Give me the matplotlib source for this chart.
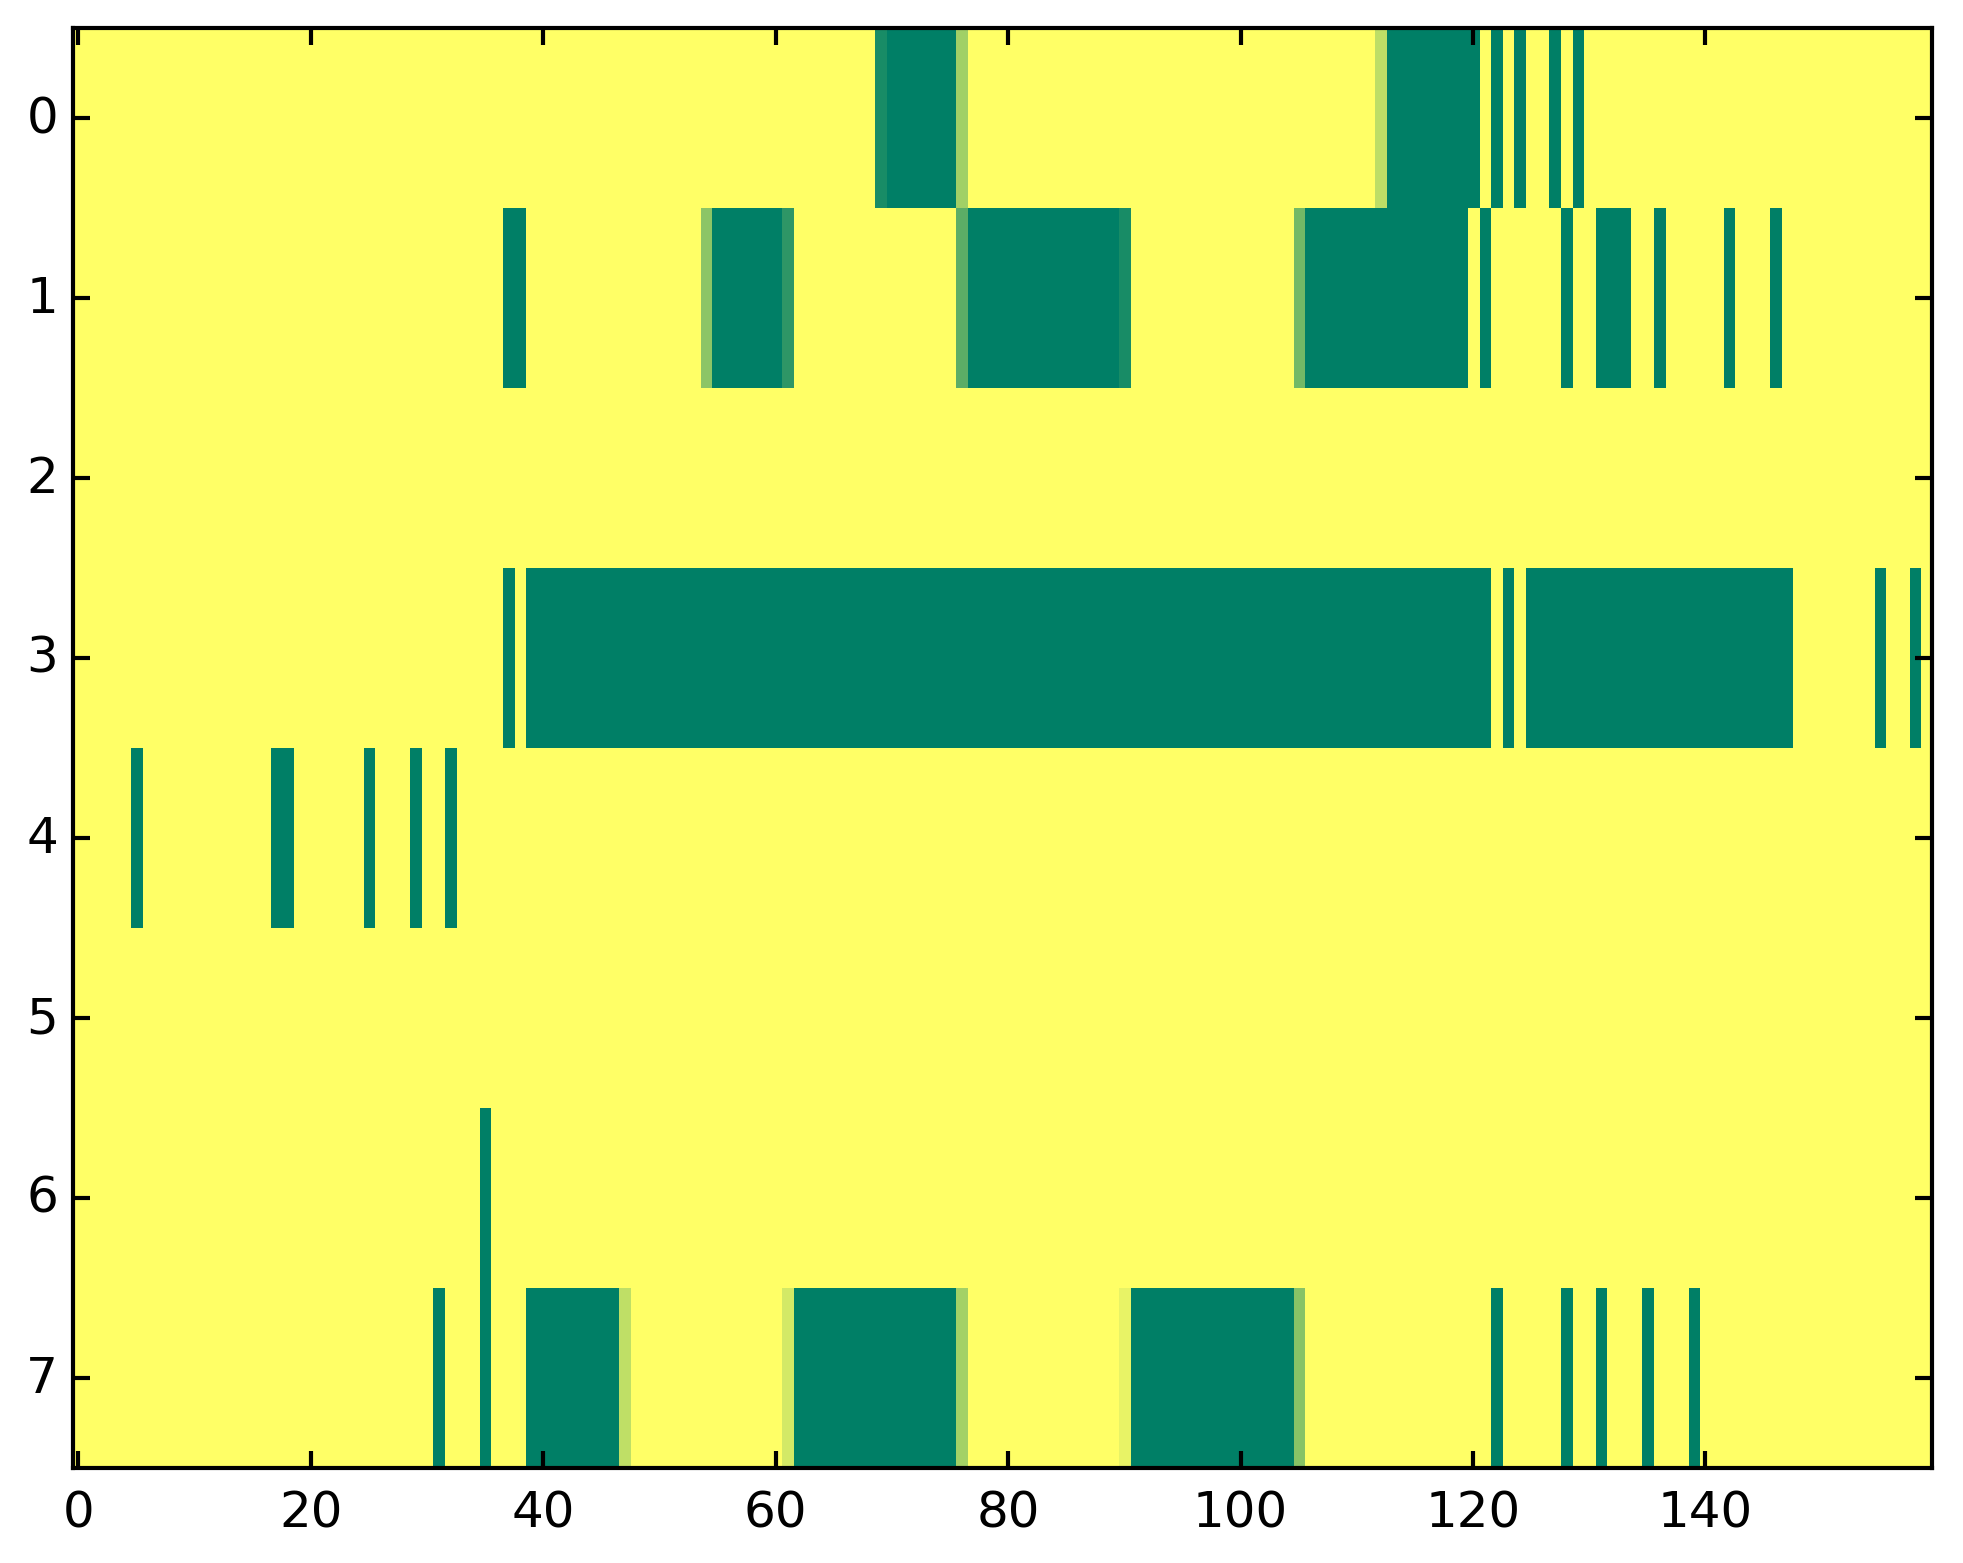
#!/usr/bin/env python3
"""
8 x 160 occupancy grid drawn with imshow (summer_r, nearest).
Output: out.png
"""

import numpy as np
import matplotlib
matplotlib.use("Agg")
import matplotlib.pyplot as plt

N_COLS = 160

# (first column, last column, value) runs per row; everything else is 0
ROW0 = [(69, 69, 0.9), (70, 75, 1.0), (76, 76, 0.37), (112, 112, 0.26),
        (113, 120, 1.0), (122, 122, 1.0), (124, 124, 1.0), (127, 127, 1.0),
        (129, 129, 1.0)]
ROW1 = [(37, 38, 1.0), (54, 54, 0.45), (55, 60, 1.0), (61, 61, 0.82),
        (76, 76, 0.64), (77, 89, 1.0), (90, 90, 0.9), (105, 105, 0.55),
        (106, 119, 1.0), (121, 121, 1.0), (128, 128, 1.0), (131, 133, 1.0),
        (136, 136, 1.0), (142, 142, 1.0), (146, 146, 1.0)]
ROW2 = []
ROW3 = [(37, 37, 1.0), (39, 121, 1.0), (123, 123, 1.0), (125, 147, 1.0),
        (155, 155, 1.0), (158, 158, 1.0)]
ROW4 = [(5, 5, 1.0), (17, 18, 1.0), (25, 25, 1.0), (29, 29, 1.0),
        (32, 32, 1.0)]
ROW5 = []
ROW6 = [(35, 35, 1.0)]
ROW7 = [(31, 31, 1.0), (35, 35, 1.0), (39, 46, 1.0), (47, 47, 0.25),
        (61, 61, 0.17), (62, 75, 1.0), (76, 76, 0.36), (90, 90, 0.09),
        (91, 104, 1.0), (105, 105, 0.47), (122, 122, 1.0), (128, 128, 1.0),
        (131, 131, 1.0), (135, 135, 1.0), (139, 139, 1.0)]

ROWS = [ROW0, ROW1, ROW2, ROW3, ROW4, ROW5, ROW6, ROW7]


def build_grid(rows, n_cols):
    grid = np.zeros((len(rows), n_cols))
    for r, runs in enumerate(rows):
        for a, b, v in runs:
            grid[r, a:b + 1] = v
    return grid


def main():
    plt.style.use("classic")
    plt.rcParams.update({
        "font.family": "DejaVu Sans",
        "font.size": 12,
    })

    grid = build_grid(ROWS, N_COLS)

    fig = plt.figure(figsize=(1963 / 300, 1564 / 300), dpi=300)
    fig.patch.set_facecolor("white")
    ax = fig.add_axes([72.6 / 1963, 1 - 1469 / 1564,
                       (1932 - 72.6) / 1963, (1469 - 29) / 1564])
    ax.imshow(grid, cmap="summer_r", vmin=0, vmax=1,
              interpolation="nearest", aspect="auto")
    ax.set_xticks(np.arange(0, 141, 20))
    ax.set_yticks(np.arange(0, 8))
    ax.tick_params(direction="in", length=4, width=1)
    ax.tick_params(axis="x", pad=5)
    ax.tick_params(axis="y", pad=3.5)

    fig.savefig("out.png", dpi=300, facecolor="white")


if __name__ == "__main__":
    main()
